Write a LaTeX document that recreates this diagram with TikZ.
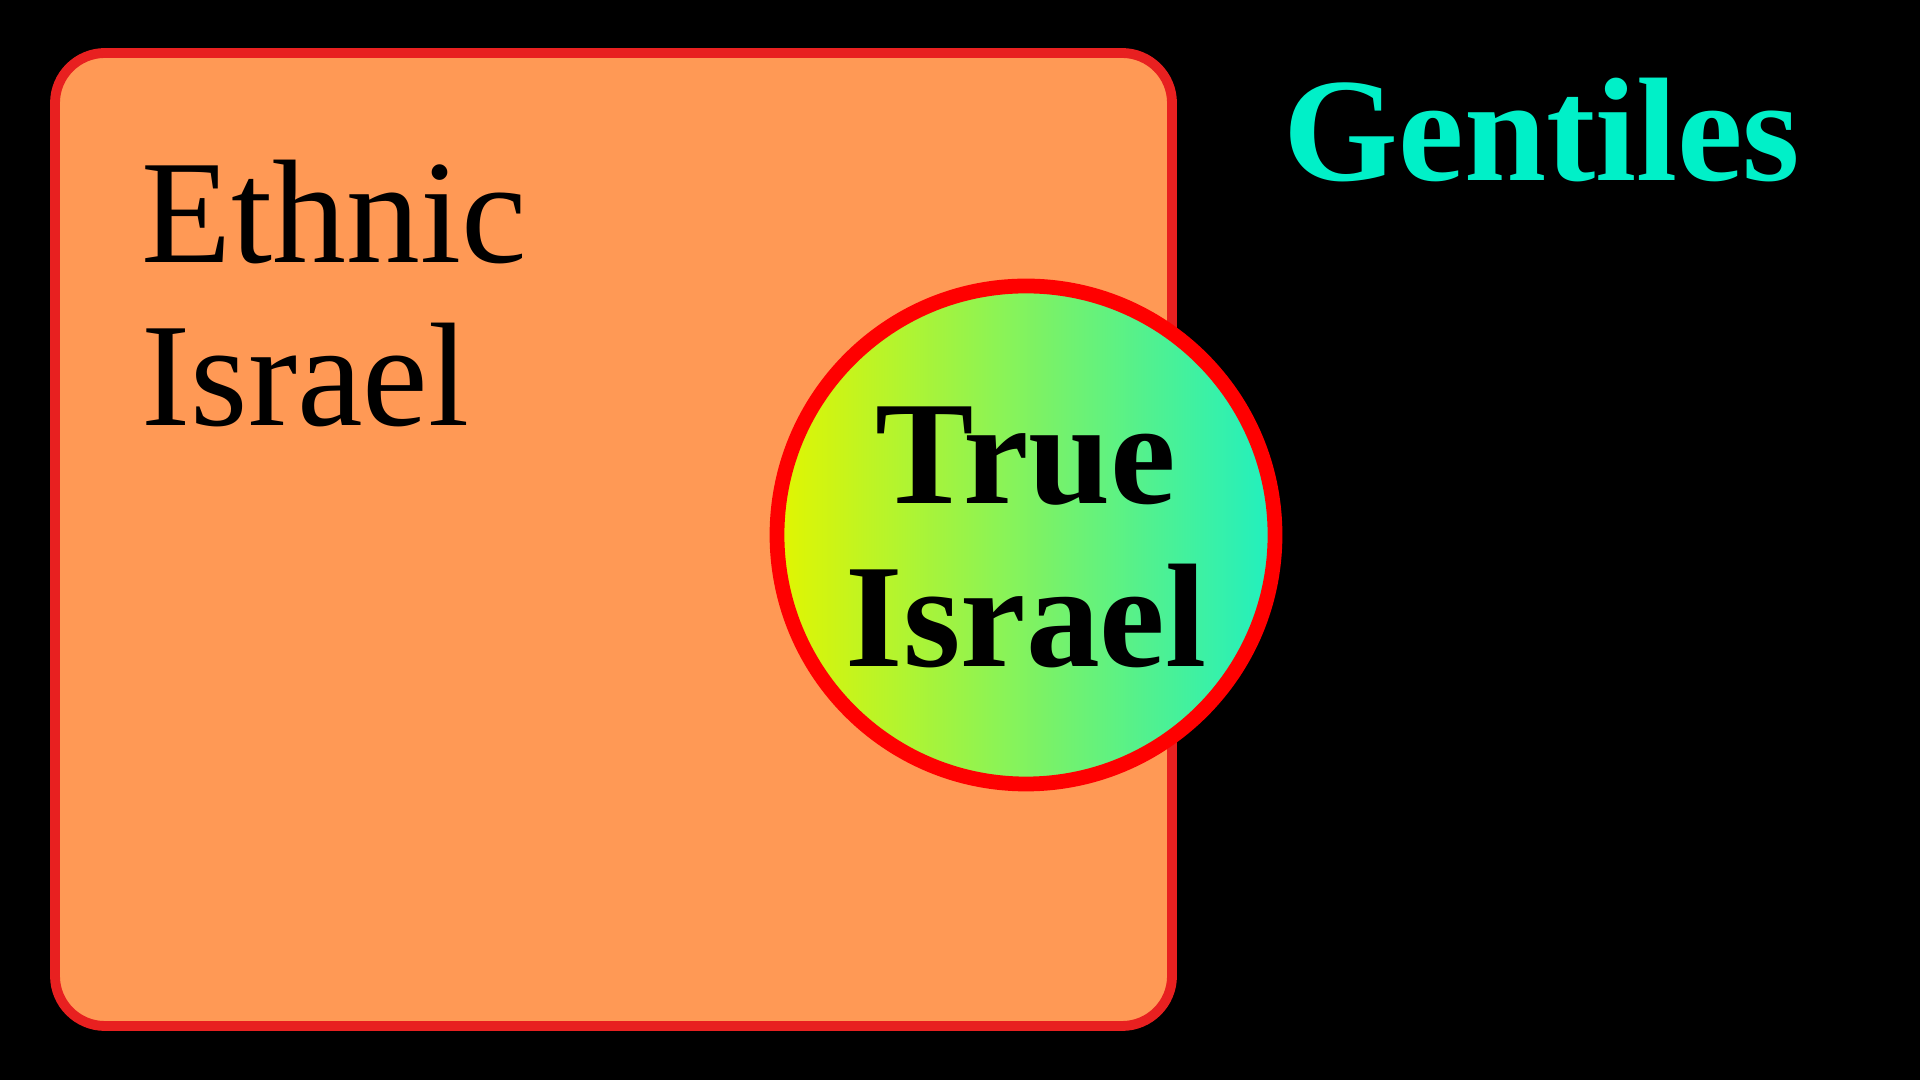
\documentclass[tikz,border=0pt]{standalone}
\usepackage{fontspec}
\setmainfont{Liberation Serif}
\usetikzlibrary{positioning}
\definecolor{boxFill}{HTML}{FF9955}
\definecolor{boxLine}{HTML}{E82020}
\definecolor{gentColor}{HTML}{00F0C8}
\tikzset{big text/.style={anchor=base west, inner sep=0pt, font=\fontsize{42}{46}\selectfont}}
\tikzset{true text/.style={anchor=base, inner sep=0pt, font=\fontsize{42}{46}\selectfont\bfseries}}
\begin{document}
\begin{tikzpicture}
  \fill[black] (0,0) rectangle (19.2,10.8);
  \useasboundingbox (0,0) rectangle (19.2,10.8);
  \draw[boxLine, line width=2.8pt, fill=boxFill, rounded corners=0.5cm] (0.55,0.54) rectangle (11.72,10.27);
  \node[big text] (ethnic) at (1.41,8.17) {Ethnic};
  \node[big text] (israel) at (1.41,6.54) {Israel};
  \draw[red, line width=4.2pt, left color={rgb,255:red,226;green,245;blue,0}, right color={rgb,255:red,32;green,240;blue,192}] (10.26,5.45) circle (2.49);
  \node[true text] (true) at (10.26,5.76) {True};
  \node[true text] (trueisr) at (10.26,4.13) {Israel};
  \node[big text, text=gentColor, font=\fontsize{42}{46}\selectfont\bfseries] (gent) at (12.83,8.99) {Gentiles};
\end{tikzpicture}
\end{document}
